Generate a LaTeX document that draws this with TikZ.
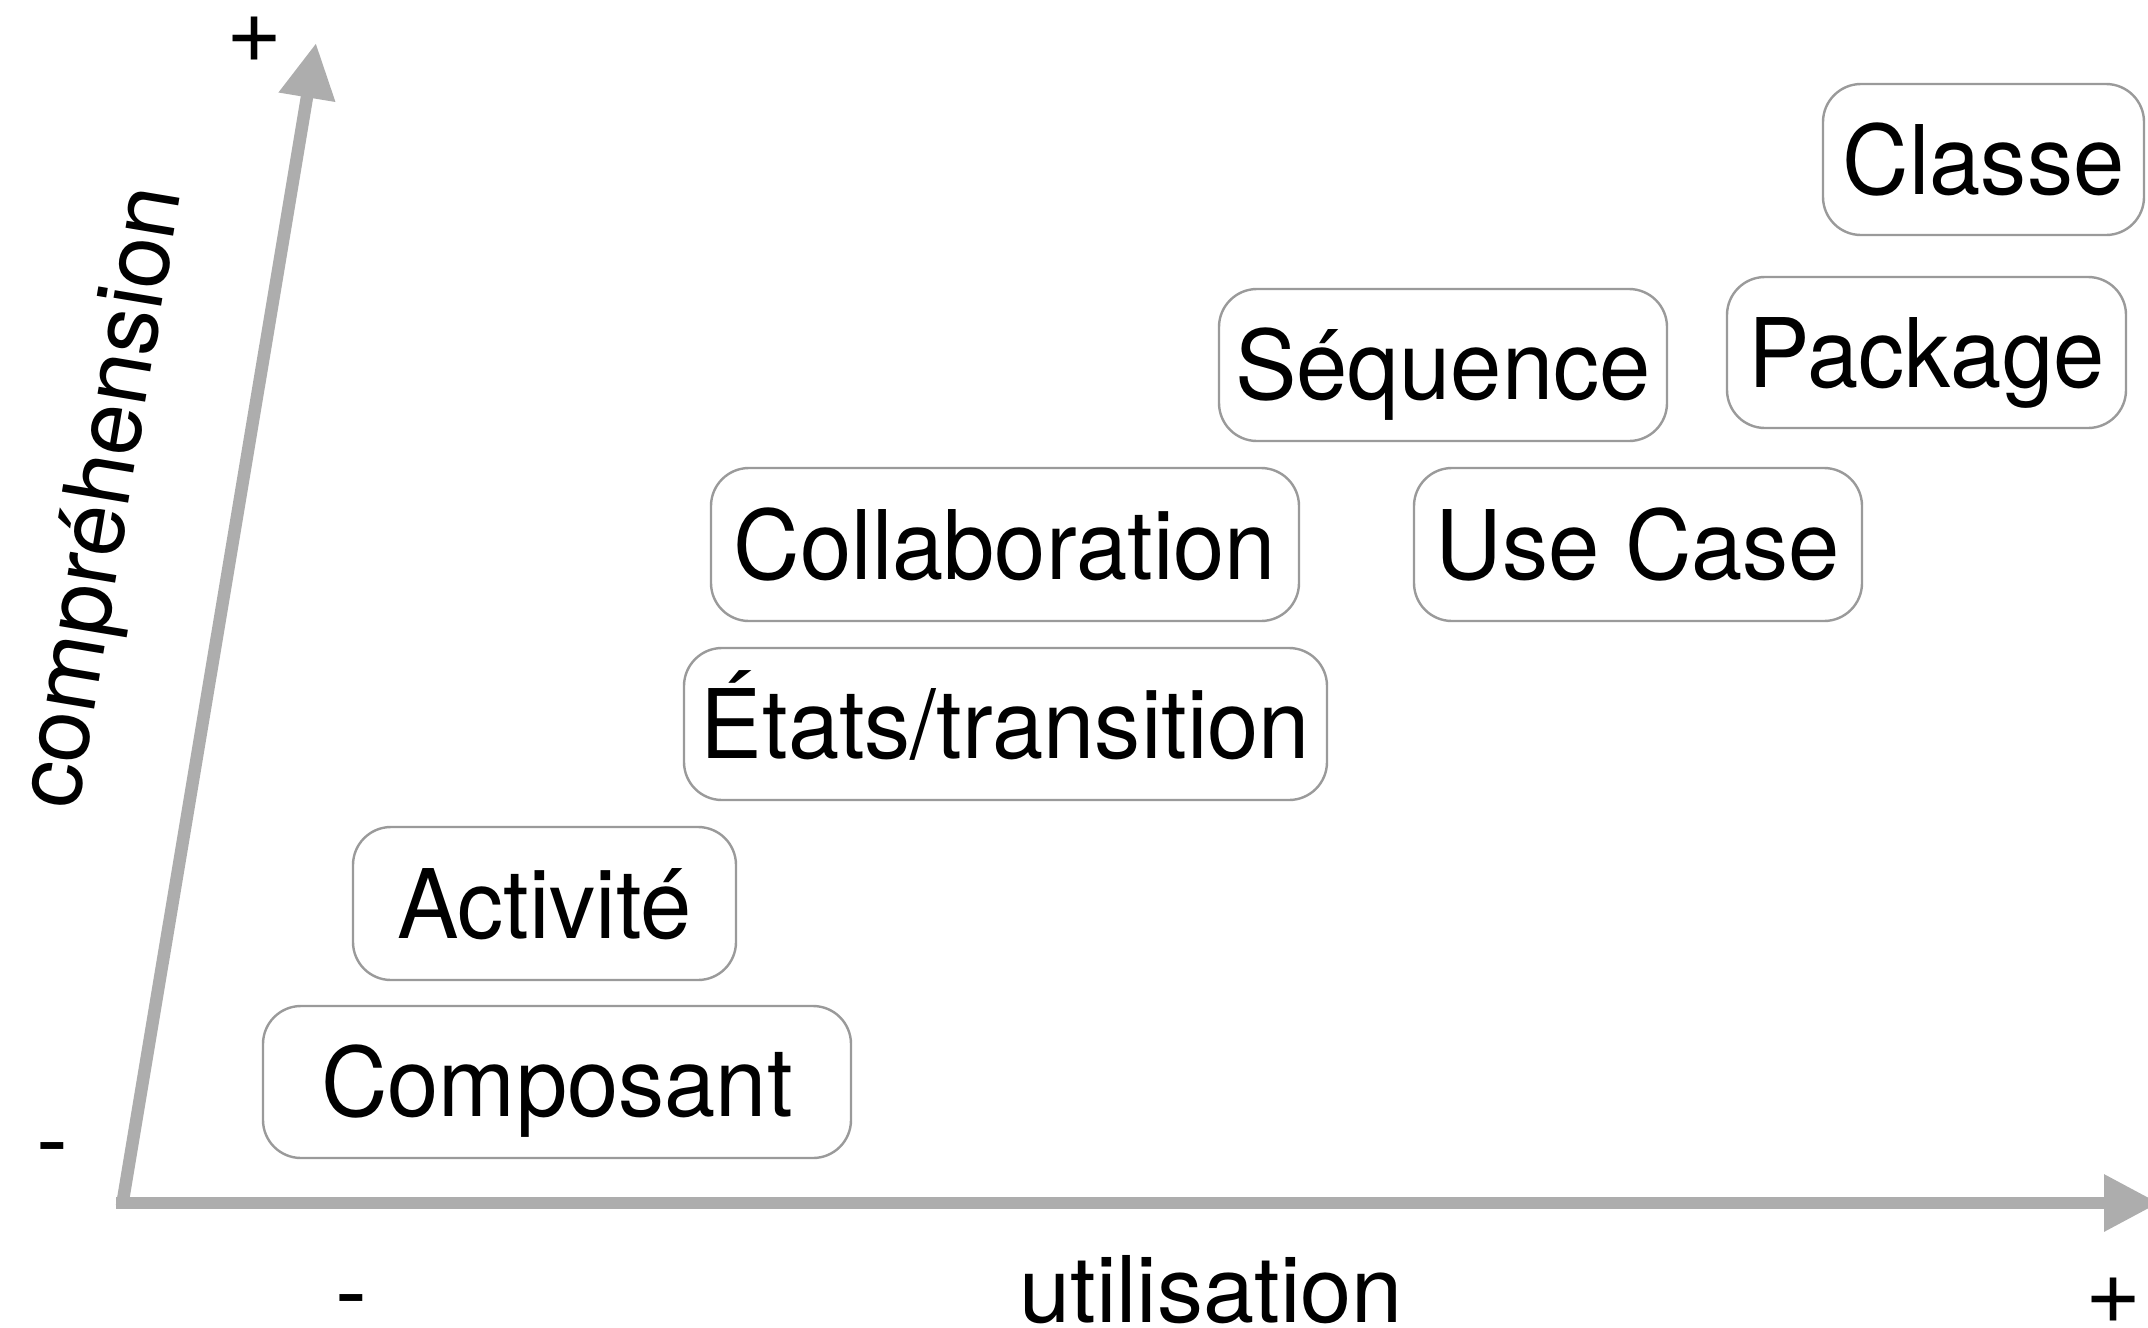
\documentclass[tikz,border=0pt]{standalone}
\usepackage{fontspec}
\setmainfont{TeX Gyre Heros}
\newfontfamily\boxfont{TeX Gyre Heros}[FakeStretch=0.96]
\usetikzlibrary{arrows.meta}
\definecolor{axisgray}{HTML}{ADADAD}
\definecolor{boxgray}{HTML}{9A9A9A}
\begin{document}
\begin{tikzpicture}[x=0.5pt,y=-0.5pt,
  axis/.style={draw=axisgray,line width=6.25pt,-{Triangle[length=27.5pt,width=27pt]}},
  diag/.style={draw=boxgray,line width=1.2pt,rounded corners=19pt,inner sep=0pt,
    text height=34.5pt,text depth=0pt,font=\boxfont\fontsize{48}{58}\selectfont},
  sign/.style={anchor=base,inner sep=0pt,font=\fontsize{48}{58}\selectfont},
  lbl/.style={inner sep=0pt,font=\fontsize{46}{55}\selectfont}]
\clip (0,0) rectangle (2148,1328);
% axes
\coordinate (xo) at (116,1203);
\coordinate (yo) at (122,1206);
\coordinate (ytip) at (316,43);
\coordinate (xtip) at (2159,1203);
\draw[axis] (yo) -- (ytip);
\draw[axis] (xo) -- (xtip);
% boxes
\node[diag,minimum width=160.5pt,minimum height=75.5pt] (classe) at (1983.5,159.5) {Classe};
\node[diag,minimum width=199.5pt,minimum height=75.5pt] (package) at (1926.5,352.5) {Package};
\node[diag,minimum width=224pt,minimum height=76pt] (sequence) at (1443,365) {Séquence};
\node[diag,minimum width=224pt,minimum height=76.5pt] (usecase) at (1638,544.5) {Use Case};
\node[diag,minimum width=294pt,minimum height=76.5pt] (collab) at (1005,544.5) {Collaboration};
\node[diag,minimum width=321.5pt,minimum height=76pt] (etats) at (1005.5,724) {États/transition};
\node[diag,minimum width=191.5pt,minimum height=76.5pt] (activite) at (544.5,903.5) {Activité};
\node[diag,minimum width=294pt,minimum height=76pt] (composant) at (557,1082) {Composant};
% signs and labels
\node[sign] (plusy) at (255,62) {+};
\node[sign] (minusy) at (52,1172) {-};
\node[sign] (minusx) at (351,1324) {-};
\node[sign] (plusx) at (2114,1323) {+};
\node[lbl,anchor=base] (xlabel) at (1211,1322) {utilisation};
\node[lbl,rotate=80.5] (ylabel) at (106,498) {compréhension};
\end{tikzpicture}
\end{document}
